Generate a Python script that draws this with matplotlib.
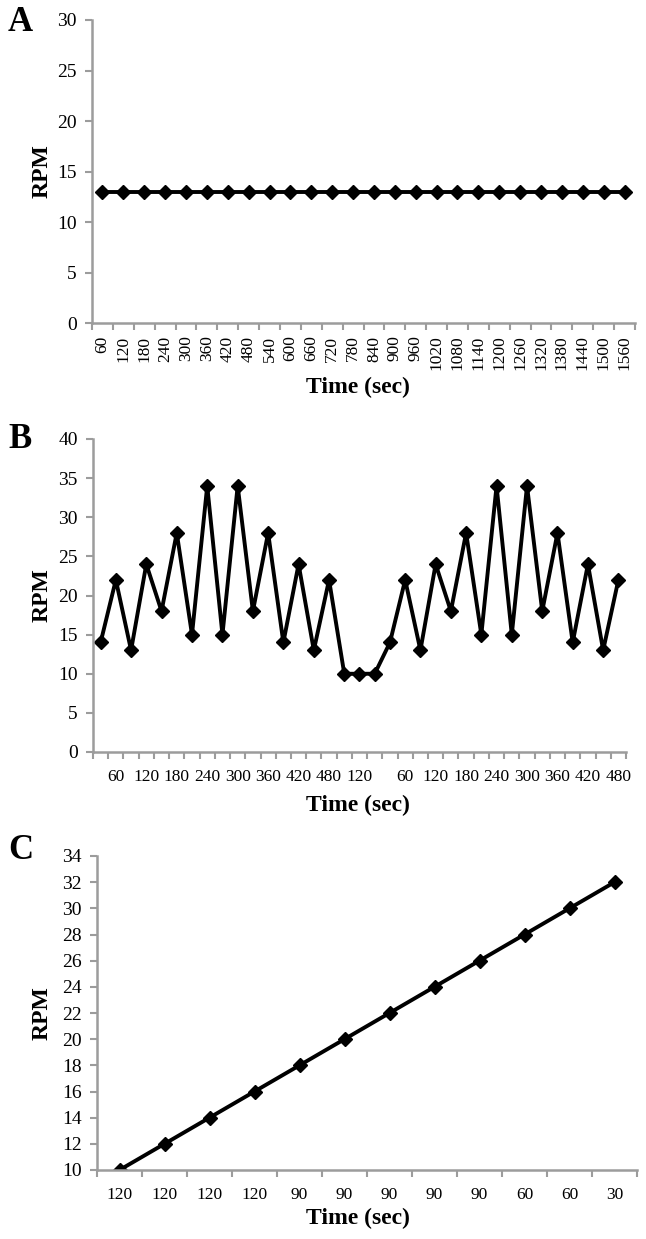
import matplotlib
matplotlib.use("Agg")
import matplotlib.pyplot as plt
from matplotlib.ticker import FixedLocator

plt.rcParams["font.family"] = ["Liberation Serif", "DejaVu Serif"]

# panel A
a_labels = [str(t) for t in range(60, 1561, 60)]
a_rpm = [13] * 26

# panel B
b_labels = ["", "60", "", "120", "", "180", "", "240", "", "300", "", "360", "", "420", "", "480",
            "", "120", "", "", "60", "", "120", "", "180", "", "240", "", "300", "", "360", "",
            "420", "", "480"]
b_rpm = [14, 22, 13, 24, 18, 28, 15, 34, 15, 34, 18, 28, 14, 24, 13, 22,
         10, 10, 10, 14, 22, 13, 24, 18, 28, 15, 34, 15, 34, 18, 28, 14, 24, 13, 22]

# panel C
c_labels = ["120", "120", "120", "120", "90", "90", "90", "90", "90", "60", "60", "30"]
c_rpm = [10, 12, 14, 16, 18, 20, 22, 24, 26, 28, 30, 32]

W, H = 646, 1239
fig = plt.figure(figsize=(W / 100, H / 100), dpi=100)
GREY = "#9c9c9c"


def panel(box, labels, rpm, ylim, ystep, letter, letter_top, xlab_y, rot):
    l, t, r, b = box
    ax = fig.add_axes([l / W, 1 - b / H, (r - l) / W, (b - t) / H])
    x = list(range(len(rpm)))
    ax.plot(x, rpm, color="black", lw=2.8, marker="D", ms=7.5, mfc="black", mec="black")
    ax.set_xlim(-0.5, len(rpm) - 0.5)
    ax.set_ylim(*ylim)
    ax.set_yticks(range(ylim[0], ylim[1] + 1, ystep))
    ax.set_xticks(x)
    ax.set_xticklabels(labels, rotation=rot, fontsize=12.5)
    ax.xaxis.set_minor_locator(FixedLocator([i - 0.5 for i in range(len(rpm) + 1)]))
    ax.tick_params(axis="x", which="major", length=0, pad=9 if rot else 12)
    ax.tick_params(axis="x", which="minor", length=5, color=GREY, width=1.5)
    ax.tick_params(axis="y", length=5, color=GREY, width=1.5, labelsize=14, pad=6)
    for s in ["top", "right"]:
        ax.spines[s].set_visible(False)
    for s in ["left", "bottom"]:
        ax.spines[s].set_color(GREY)
        ax.spines[s].set_linewidth(1.8)
    ax.set_ylabel("RPM", fontsize=17, fontweight="bold", va="center")
    ax.yaxis.set_label_coords((42 - l) / (r - l), 0.5)
    ax.set_xlabel("Time (sec)", fontsize=17, fontweight="bold", va="center")
    ax.xaxis.set_label_coords((358 - l) / (r - l), -(xlab_y - b) / (b - t))
    fig.text(8 / W, 1 - letter_top / H, letter, fontsize=25, fontweight="bold", va="top", ha="left")
    return ax


panel((92, 20, 635, 323), a_labels, a_rpm, (0, 30), 5, "A", 6, 387, 90)
panel((93, 439, 626, 752), b_labels, b_rpm, (0, 40), 5, "B", 423, 805, 0)
panel((97, 856, 637, 1170), c_labels, c_rpm, (10, 34), 2, "C", 834, 1218, 0)

fig.savefig("out.png", dpi=100, facecolor="white")
